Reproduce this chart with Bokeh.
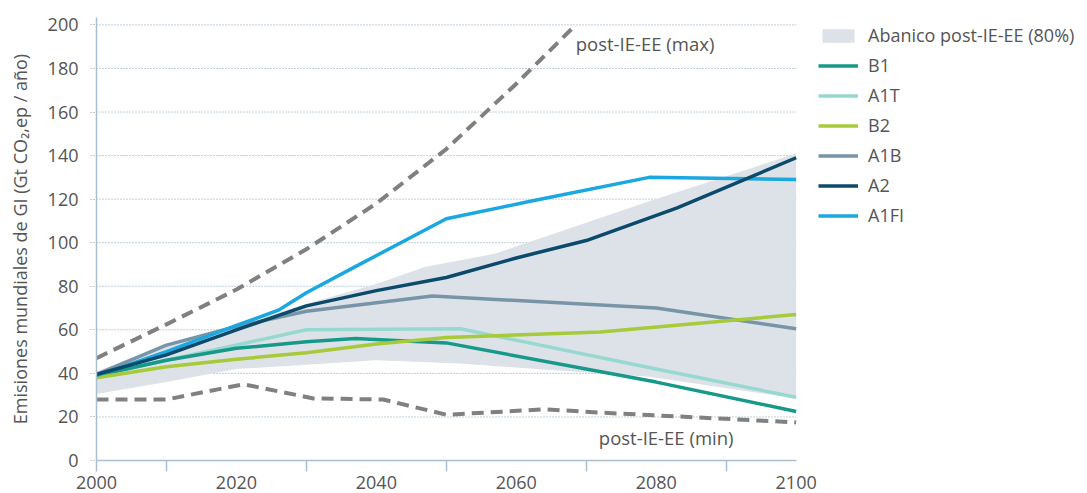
from bokeh.plotting import figure
from bokeh.models import Range1d, FixedTicker, Legend, LegendItem
from bokeh.core.properties import value
from bokeh.embed import file_html
from bokeh.resources import INLINE

# ---- data ----
fan_upper_years = [2000, 2010, 2020, 2030, 2040, 2047, 2052, 2057, 2079, 2100]
fan_upper = [41, 53, 62, 72, 81, 89, 92, 95, 119, 141]
fan_lower_years = [2000, 2010, 2020, 2030, 2040, 2052, 2065, 2079, 2100]
fan_lower = [30.5, 36, 42, 44, 46, 44.5, 41.5, 38.5, 28.5]

max_years = [2000, 2010, 2020, 2030, 2040, 2050, 2060, 2068.5]
max_vals = [47, 62.5, 78.5, 97, 118, 143, 173, 200]
min_years = [2000, 2010, 2021, 2031, 2041, 2050, 2064, 2072, 2080, 2100]
min_vals = [28, 28, 35, 28.5, 28, 21, 23.5, 22, 20.7, 17.5]

b1_years = [2000, 2010, 2020, 2030, 2037, 2050, 2080, 2100]
b1_vals = [39, 46, 51.5, 54.5, 56, 54, 36, 22.5]
a1t_years = [2000, 2010, 2020, 2030, 2052, 2080, 2100]
a1t_vals = [39, 46, 53, 60, 60.5, 42, 29]
b2_years = [2000, 2010, 2020, 2030, 2040, 2050, 2072, 2100]
b2_vals = [38, 43, 46.5, 49.5, 53.5, 56.5, 59, 67]
a1b_years = [2000, 2010, 2020, 2030, 2048, 2080, 2100]
a1b_vals = [39.5, 53, 61.5, 68.5, 75.5, 70, 60.5]
a2_years = [2000, 2010, 2020, 2030, 2040, 2050, 2060, 2070, 2083, 2100]
a2_vals = [39.5, 48.5, 60, 71, 78, 84, 93, 101, 116, 139]
a1fi_years = [2000, 2010, 2020, 2026, 2030, 2037, 2050, 2062, 2079, 2100]
a1fi_vals = [39, 50, 62, 69, 77, 89, 111, 119, 130, 129]

y_ticks = [0, 20, 40, 60, 80, 100, 120, 140, 160, 180, 200]
grid_levels = [20, 40, 60, 80, 100, 120, 140, 160, 180, 200]
x_label_ticks = [2000, 2020, 2040, 2060, 2080, 2100]
x_mark_ticks = [2000, 2010, 2030, 2050, 2070, 2090]
year_start, year_end = 2000, 2100

fan_label = "Abanico post-IE-EE (80%)"
series_names = ["B1", "A1T", "B2", "A1B", "A2", "A1FI"]
max_label = "post-IE-EE (max)"
min_label = "post-IE-EE (min)"
y_title = "Emisiones mundiales de GI (Gt CO\u2082,ep / año)"

# ---- style ----
FONT = "Open Sans"
TXT = "#555555"
AXIS = "#a9bfcf"
GRID = "#7f9db8"
colors = {"B1": "#17998a", "A1T": "#97d9d0", "B2": "#a6ca3a",
          "A1B": "#7895a8", "A2": "#0b4a6b", "A1FI": "#1ba7df"}
DASH_C = "#808080"

# frame extends under the legend area; scale kept at ~7 px per year
p = figure(width=1087, height=493, output_backend="svg", toolbar_location=None,
           x_range=Range1d(2000, 2140.5), y_range=Range1d(0, 203.4),
           min_border_left=96, min_border_right=8, min_border_top=17,
           min_border_bottom=33)
p.outline_line_color = None
p.background_fill_color = "white"
p.xgrid.grid_line_color = None
p.ygrid.grid_line_color = None

# dotted horizontal grid, limited to the data period
p.segment(x0=[year_start] * len(grid_levels), x1=[year_end] * len(grid_levels),
          y0=grid_levels, y1=grid_levels, line_color=GRID, line_width=1,
          line_dash="1 2")

# fan
fan = p.patch(x=fan_upper_years + fan_lower_years[::-1],
              y=fan_upper + fan_lower[::-1], fill_color="#dde2e9",
              line_color=None)

# dashed envelope
p.line(max_years, max_vals, line_color=DASH_C, line_width=4, line_dash="12 7")
p.line(min_years, min_vals, line_color=DASH_C, line_width=4, line_dash="12 7")

series = {"B1": (b1_years, b1_vals), "A1T": (a1t_years, a1t_vals),
          "B2": (b2_years, b2_vals), "A1B": (a1b_years, a1b_vals),
          "A2": (a2_years, a2_vals), "A1FI": (a1fi_years, a1fi_vals)}
renderers = {}
for name in ["A1B", "A1T", "B1", "B2", "A1FI", "A2"]:
    xs, ys = series[name]
    renderers[name] = p.line(xs, ys, line_color=colors[name], line_width=3.5,
                             line_join="round")

# annotations
p.text(x=[2068.5], y=[191.5], text=[max_label], text_font=value(FONT),
       text_font_size="18.5px", text_color=TXT, text_baseline="middle",
       text_align="left")
p.text(x=[2071.8], y=[10.6], text=[min_label], text_font=value(FONT),
       text_font_size="18.5px", text_color=TXT, text_baseline="middle",
       text_align="left")

# axes
xa = p.xaxis[0]
xa.ticker = FixedTicker(ticks=x_label_ticks, minor_ticks=x_mark_ticks)
xa.bounds = (year_start, year_end)
xa.axis_line_color = AXIS
xa.axis_line_width = 1.5
xa.major_tick_line_color = None
xa.major_tick_out = 0
xa.major_tick_in = 0
xa.minor_tick_line_color = AXIS
xa.minor_tick_line_width = 1.5
xa.minor_tick_out = 11
xa.minor_tick_in = 0
xa.major_label_standoff = 4
xa.major_label_text_font = FONT
xa.major_label_text_font_size = "18px"
xa.major_label_text_color = TXT

ya = p.yaxis[0]
ya.ticker = FixedTicker(ticks=y_ticks)
ya.axis_line_color = AXIS
ya.axis_line_width = 1.5
ya.major_tick_line_color = GRID
ya.major_tick_line_dash = "1 2"
ya.major_tick_out = 6
ya.major_tick_in = 0
ya.minor_tick_line_color = None
ya.major_label_standoff = 12
ya.major_label_text_font = FONT
ya.major_label_text_font_size = "18px"
ya.major_label_text_color = TXT
ya.axis_label = y_title
ya.axis_label_text_font = FONT
ya.axis_label_text_font_size = "18px"
ya.axis_label_text_font_style = "normal"
ya.axis_label_text_color = TXT
ya.axis_label_standoff = 13

# legend inside the (extended) frame, right of the data period
items = [LegendItem(label=fan_label, renderers=[fan])]
items += [LegendItem(label=n, renderers=[renderers[n]]) for n in series_names]
leg = Legend(items=items, location=(722, 233), orientation="vertical")
leg.glyph_width = 40
leg.glyph_height = 17
leg.label_height = 20
leg.label_standoff = 10
leg.spacing = 6
leg.padding = 0
leg.margin = 0
leg.border_line_color = None
leg.background_fill_alpha = 0
leg.label_text_font = FONT
leg.label_text_font_size = "18px"
leg.label_text_color = TXT
leg.label_text_baseline = "middle"
p.add_layout(leg, "center")

open("out.html", "w").write(file_html(p, INLINE))
